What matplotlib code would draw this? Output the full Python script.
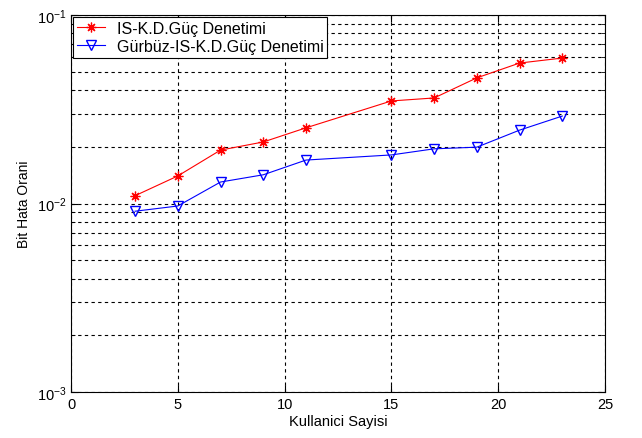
import matplotlib
matplotlib.use("Agg")
import matplotlib.pyplot as plt
from matplotlib.ticker import LogLocator, NullFormatter

plt.rcParams['font.family'] = ['Liberation Sans', 'DejaVu Sans']

# Kullanici sayisi ve bit hata oranlari
kullanici = [3, 5, 7, 9, 11, 15, 17, 19, 21, 23]
ber_iskd = [0.0110, 0.0140, 0.0192, 0.0212, 0.0252, 0.0350, 0.0363, 0.0464, 0.0556, 0.0591]
ber_gurbuz = [0.0091, 0.0097, 0.0130, 0.0142, 0.0170, 0.0181, 0.0195, 0.0199, 0.0245, 0.0291]

fig = plt.figure(figsize=(6.42, 4.39), dpi=100)
ax = fig.add_axes([71/642, 1 - 393/439, (605-71)/642, (393-16)/439])

ax.semilogy(kullanici, ber_iskd, color='red', marker=(8, 2, 0), markersize=7,
            markeredgewidth=0.9, linewidth=0.8, label='IS-K.D.Güç Denetimi')
ax.semilogy(kullanici, ber_gurbuz, color='blue', marker='v', markersize=7,
            markerfacecolor='none', linewidth=0.8, label='Gürbüz-IS-K.D.Güç Denetimi')

ax.set_xlim(0, 25)
ax.set_ylim(1e-3, 1e-1)
ax.set_xticks([0, 5, 10, 15, 20, 25])
ax.yaxis.set_major_locator(LogLocator(base=10))
ax.yaxis.set_minor_locator(LogLocator(base=10, subs=range(2, 10)))
ax.yaxis.set_minor_formatter(NullFormatter())

ax.grid(True, which='major', axis='both', color='black', linestyle=(0, (3, 3)), linewidth=0.8)
ax.grid(True, which='minor', axis='y', color='black', linestyle=(0, (3, 3)), linewidth=0.8)

ax.tick_params(which='both', direction='in', top=True, right=True, labelsize=10.5)
ax.tick_params(which='major', length=5)
ax.tick_params(which='minor', length=3)

ax.set_xlabel('Kullanici Sayisi', fontsize=10.5, labelpad=2)
ax.set_ylabel('Bit Hata Orani', fontsize=10)

leg = ax.legend(loc='upper left', fancybox=False, framealpha=1, edgecolor='black',
                fontsize=11.5, borderaxespad=0.1, handlelength=1.8, handletextpad=0.7,
                borderpad=0.25, labelspacing=0.2)
leg.get_frame().set_linewidth(0.8)

fig.savefig('out.png', dpi=100)
